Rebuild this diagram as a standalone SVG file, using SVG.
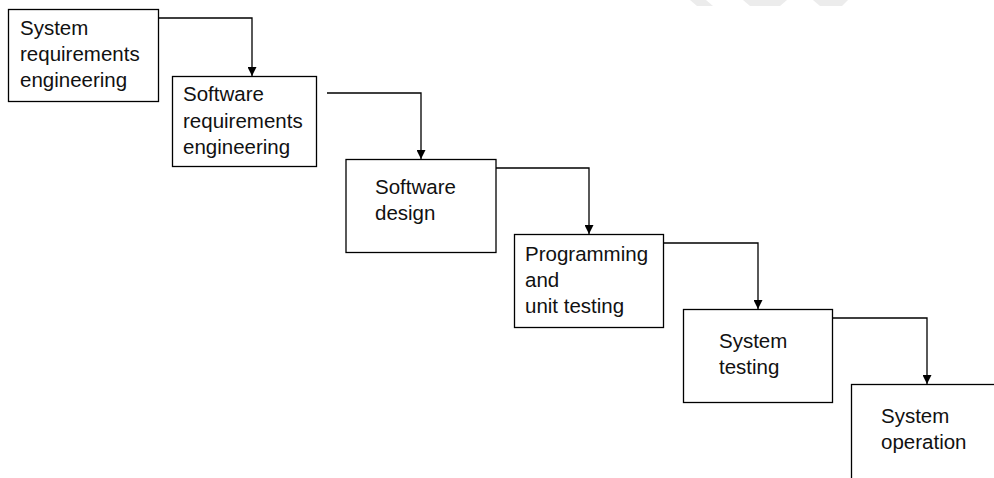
<svg xmlns="http://www.w3.org/2000/svg" width="994" height="478" viewBox="0 0 994 478">
<style>
.box{fill:#fff;stroke:#000;stroke-width:1.3}
.lbl{font-family:"Liberation Sans",Arial,sans-serif;font-size:20.5px;fill:#111}
.con{fill:none;stroke:#000;stroke-width:1.3}
.wm{fill:#ececec}
</style>
<defs>
<marker id="arr" viewBox="0 0 10 10" refX="10" refY="5" markerWidth="9" markerHeight="9" markerUnits="userSpaceOnUse" orient="auto">
<path d="M0,0 L10,5 L0,10 z" fill="#000"/>
</marker>
</defs>
<g id="watermark">
<polygon class="wm" points="690,0 706,0 713,6 697,6"/>
<polygon class="wm" points="743,0 787,0 780,6 750,6"/>
<polygon class="wm" points="813,0 848,0 842,6 820,6"/>
</g>
<g id="connectors">
<polyline class="con" points="159,18 252,18 252,76" marker-end="url(#arr)"/>
<polyline class="con" points="327,93 421,93 421,159" marker-end="url(#arr)"/>
<polyline class="con" points="496,168 589,168 589,234" marker-end="url(#arr)"/>
<polyline class="con" points="664,243 758,243 758,309" marker-end="url(#arr)"/>
<polyline class="con" points="833,318 927,318 927,384" marker-end="url(#arr)"/>
</g>
<g id="n1">
<rect class="box" x="8.5" y="9.5" width="150" height="92"/>
<text class="lbl" x="20" y="35">System</text>
<text class="lbl" x="20" y="61">requirements</text>
<text class="lbl" x="20" y="87">engineering</text>
</g>
<g id="n2">
<rect class="box" x="172.5" y="76.5" width="144" height="90"/>
<text class="lbl" x="183" y="101">Software</text>
<text class="lbl" x="183" y="128">requirements</text>
<text class="lbl" x="183" y="154">engineering</text>
</g>
<g id="n3">
<rect class="box" x="346" y="159.5" width="150" height="93"/>
<text class="lbl" x="375" y="194">Software</text>
<text class="lbl" x="375" y="220">design</text>
</g>
<g id="n4">
<rect class="box" x="514.5" y="234.5" width="149" height="93"/>
<text class="lbl" x="525" y="261">Programming</text>
<text class="lbl" x="525" y="287">and</text>
<text class="lbl" x="525" y="313">unit testing</text>
</g>
<g id="n5">
<rect class="box" x="683.5" y="309.5" width="149" height="93"/>
<text class="lbl" x="719" y="348">System</text>
<text class="lbl" x="719" y="374">testing</text>
</g>
<g id="n6">
<rect class="box" x="851.5" y="384.5" width="150" height="100"/>
<text class="lbl" x="881" y="423">System</text>
<text class="lbl" x="881" y="449">operation</text>
</g>
</svg>
